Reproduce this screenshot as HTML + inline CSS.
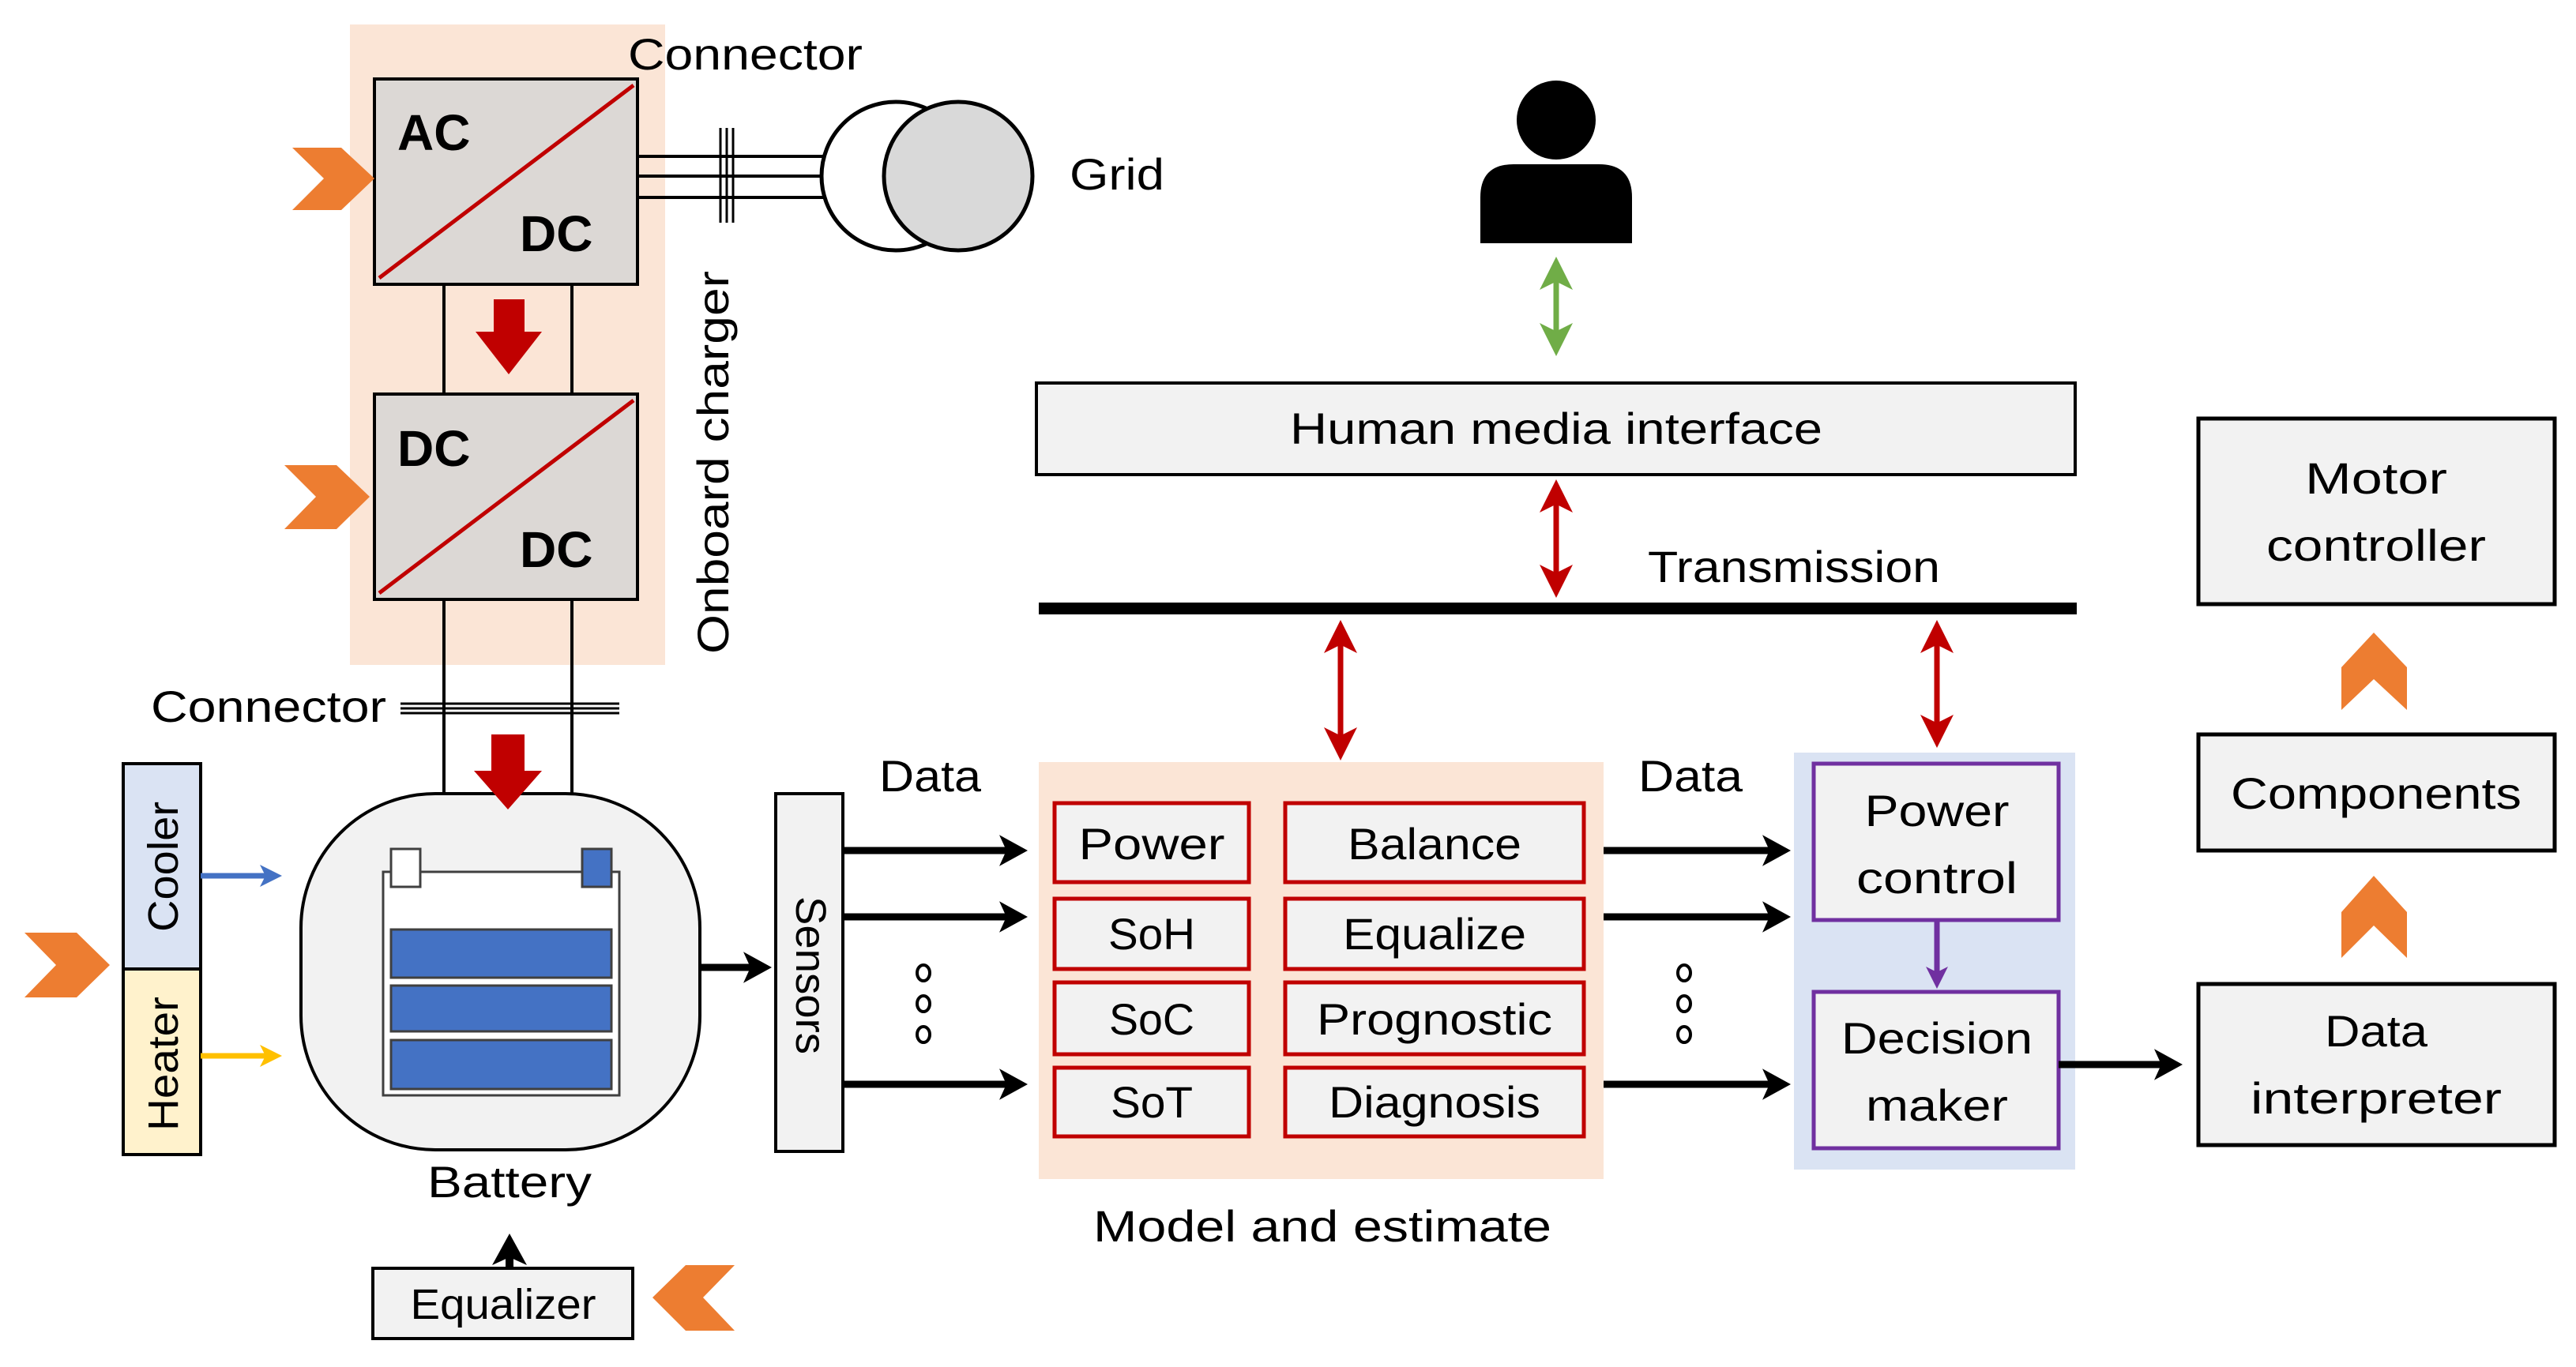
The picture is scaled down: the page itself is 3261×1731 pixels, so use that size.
<!DOCTYPE html>
<html><head><meta charset="utf-8"><style>html,body{margin:0;padding:0;background:#fff}svg{display:block}text{font-family:"Liberation Sans",sans-serif;fill:#000}</style></head><body>
<svg width="3261" height="1731" viewBox="0 0 3261 1731" xmlns="http://www.w3.org/2000/svg">
<defs>
<marker id="ak" markerWidth="4" markerHeight="4.4" refX="3" refY="2.2" orient="auto" markerUnits="strokeWidth"><path d="M0,0 L4,2.2 L0,4.4 L1,2.2z" fill="#000"/></marker>
<marker id="ar" markerWidth="6" markerHeight="6" refX="5" refY="3" orient="auto-start-reverse" markerUnits="strokeWidth"><path d="M0,0 L6,3 L0,6 L1.5,3z" fill="#c00000"/></marker>
<marker id="ag" markerWidth="6" markerHeight="6" refX="5" refY="3" orient="auto-start-reverse" markerUnits="strokeWidth"><path d="M0,0 L6,3 L0,6 L1.5,3z" fill="#70ad47"/></marker>
<marker id="ab" markerWidth="4" markerHeight="4" refX="3" refY="2" orient="auto" markerUnits="strokeWidth"><path d="M0,0 L4,2 L0,4 L1,2z" fill="#4472c4"/></marker>
<marker id="ay" markerWidth="4" markerHeight="4" refX="3" refY="2" orient="auto" markerUnits="strokeWidth"><path d="M0,0 L4,2 L0,4 L1,2z" fill="#ffc000"/></marker>
<marker id="ap" markerWidth="4" markerHeight="4" refX="3" refY="2" orient="auto" markerUnits="strokeWidth"><path d="M0,0 L4,2 L0,4 L1,2z" fill="#7030a0"/></marker>
</defs>

<rect x="443" y="31" width="399" height="811" fill="#fbe5d6"/>
<line x1="562" y1="360" x2="562" y2="1043" stroke="#000" stroke-width="4"/>
<line x1="724" y1="360" x2="724" y2="1043" stroke="#000" stroke-width="4"/>
<rect x="474" y="100" width="333" height="260" fill="#dcd8d5" stroke="#000" stroke-width="4"/>
<line x1="480" y1="352" x2="802" y2="108" stroke="#c00000" stroke-width="5"/>
<text x="503" y="190" font-size="64" font-weight="bold">AC</text>
<text x="658" y="318" font-size="64" font-weight="bold">DC</text>
<rect x="474" y="499" width="333" height="260" fill="#dcd8d5" stroke="#000" stroke-width="4"/>
<line x1="480" y1="751" x2="802" y2="507" stroke="#c00000" stroke-width="5"/>
<text x="503" y="590" font-size="64" font-weight="bold">DC</text>
<text x="658" y="718" font-size="64" font-weight="bold">DC</text>
<polygon points="625,379 664,379 664,420 686,420 644,474 602,420 625,420" fill="#c00000"/>
<polygon points="370,187 432,187 474,226 432,266 370,266 410,226" fill="#ed7d31"/>
<polygon points="360,589 426,589 468,629 426,670 360,670 400,629" fill="#ed7d31"/>
<text transform="translate(922,828) rotate(-90)" font-size="56" textLength="485" lengthAdjust="spacingAndGlyphs">Onboard charger</text>
<text x="795" y="88" font-size="56" textLength="297" lengthAdjust="spacingAndGlyphs">Connector</text>

<line x1="807" y1="198" x2="1060" y2="198" stroke="#000" stroke-width="4"/>
<line x1="807" y1="223" x2="1060" y2="223" stroke="#000" stroke-width="4"/>
<line x1="807" y1="250" x2="1060" y2="250" stroke="#000" stroke-width="4"/>
<line x1="912" y1="162" x2="912" y2="282" stroke="#000" stroke-width="3"/>
<line x1="920" y1="162" x2="920" y2="282" stroke="#000" stroke-width="3"/>
<line x1="928" y1="162" x2="928" y2="282" stroke="#000" stroke-width="3"/>
<circle cx="1134" cy="223" r="94" fill="#fff" stroke="#000" stroke-width="5"/>
<circle cx="1213" cy="223" r="94" fill="#d9d9d9" stroke="#000" stroke-width="5"/>
<text x="1354" y="240" font-size="56" textLength="120" lengthAdjust="spacingAndGlyphs">Grid</text>

<text x="191" y="914" font-size="56" textLength="298" lengthAdjust="spacingAndGlyphs">Connector</text>
<line x1="507" y1="891" x2="784" y2="891" stroke="#000" stroke-width="3"/>
<line x1="507" y1="897" x2="784" y2="897" stroke="#000" stroke-width="3"/>
<line x1="507" y1="903" x2="784" y2="903" stroke="#000" stroke-width="3"/>

<rect x="381" y="1005" width="505" height="451" rx="170" ry="170" fill="#f2f2f2" stroke="#000" stroke-width="4"/>
<polygon points="622,930 664,930 664,976 686,976 643,1025 600,976 622,976" fill="#c00000"/>
<rect x="485" y="1104" width="299" height="283" fill="#fff" stroke="#404040" stroke-width="3"/>
<rect x="495" y="1075" width="37" height="48" fill="#fff" stroke="#404040" stroke-width="3"/>
<rect x="737" y="1075" width="37" height="48" fill="#4472c4" stroke="#404040" stroke-width="3"/>
<rect x="495" y="1177" width="279" height="61" fill="#4472c4" stroke="#404040" stroke-width="3"/>
<rect x="495" y="1248" width="279" height="58" fill="#4472c4" stroke="#404040" stroke-width="3"/>
<rect x="495" y="1317" width="279" height="62" fill="#4472c4" stroke="#404040" stroke-width="3"/>
<text x="645" y="1516" font-size="56" text-anchor="middle" textLength="208" lengthAdjust="spacingAndGlyphs">Battery</text>

<rect x="156" y="967" width="98" height="260" fill="#dae3f3" stroke="#000" stroke-width="4"/>
<rect x="156" y="1227" width="98" height="235" fill="#fff2cc" stroke="#000" stroke-width="4"/>
<text transform="translate(225,1180) rotate(-90)" font-size="54" textLength="165" lengthAdjust="spacingAndGlyphs">Cooler</text>
<text transform="translate(225,1432) rotate(-90)" font-size="54" textLength="170" lengthAdjust="spacingAndGlyphs">Heater</text>
<line x1="254" y1="1109" x2="350" y2="1109" stroke="#4472c4" stroke-width="7" marker-end="url(#ab)"/>
<line x1="254" y1="1337" x2="350" y2="1337" stroke="#ffc000" stroke-width="7" marker-end="url(#ay)"/>
<polygon points="31,1181 97,1181 139,1222 97,1263 31,1263 71,1222" fill="#ed7d31"/>

<rect x="472" y="1606" width="329" height="89" fill="#f2f2f2" stroke="#000" stroke-width="4"/>
<text x="637" y="1670" font-size="54" text-anchor="middle" textLength="235" lengthAdjust="spacingAndGlyphs">Equalizer</text>
<line x1="645" y1="1606" x2="645" y2="1572" stroke="#000" stroke-width="10" marker-end="url(#ak)"/>
<polygon points="930,1602 868,1602 826,1643 868,1685 930,1685 890,1643" fill="#ed7d31"/>

<rect x="982" y="1005" width="85" height="453" fill="#f2f2f2" stroke="#000" stroke-width="4"/>
<text transform="translate(1008,1135) rotate(90)" font-size="54" textLength="200" lengthAdjust="spacingAndGlyphs">Sensors</text>
<line x1="886" y1="1225" x2="968" y2="1225" stroke="#000" stroke-width="9" marker-end="url(#ak)"/>

<line x1="1067" y1="1077" x2="1292" y2="1077" stroke="#000" stroke-width="9" marker-end="url(#ak)"/>
<line x1="1067" y1="1161" x2="1292" y2="1161" stroke="#000" stroke-width="9" marker-end="url(#ak)"/>
<line x1="1067" y1="1373" x2="1292" y2="1373" stroke="#000" stroke-width="9" marker-end="url(#ak)"/>
<g fill="none" stroke="#000" stroke-width="4"><ellipse cx="1169" cy="1232" rx="8" ry="10"/><ellipse cx="1169" cy="1271" rx="8" ry="10"/><ellipse cx="1169" cy="1310" rx="8" ry="10"/>
<ellipse cx="2132" cy="1232" rx="8" ry="10"/><ellipse cx="2132" cy="1271" rx="8" ry="10"/><ellipse cx="2132" cy="1310" rx="8" ry="10"/></g>
<text x="1113" y="1002" font-size="56" textLength="129" lengthAdjust="spacingAndGlyphs">Data</text>
<text x="2074" y="1002" font-size="56" textLength="132" lengthAdjust="spacingAndGlyphs">Data</text>

<rect x="1315" y="965" width="715" height="528" fill="#fbe5d6"/>
<g fill="#f2f2f2" stroke="#c00000" stroke-width="5">
<rect x="1335" y="1017" width="246" height="100"/><rect x="1627" y="1017" width="378" height="100"/>
<rect x="1335" y="1138" width="246" height="89"/><rect x="1627" y="1138" width="378" height="89"/>
<rect x="1335" y="1244" width="246" height="91"/><rect x="1627" y="1244" width="378" height="91"/>
<rect x="1335" y="1352" width="246" height="87"/><rect x="1627" y="1352" width="378" height="87"/>
</g>
<g font-size="56" text-anchor="middle">
<text x="1458" y="1088" textLength="185" lengthAdjust="spacingAndGlyphs">Power</text>
<text x="1816" y="1088" textLength="220" lengthAdjust="spacingAndGlyphs">Balance</text>
<text x="1458" y="1202" textLength="110" lengthAdjust="spacingAndGlyphs">SoH</text>
<text x="1816" y="1202" textLength="232" lengthAdjust="spacingAndGlyphs">Equalize</text>
<text x="1458" y="1310" textLength="108" lengthAdjust="spacingAndGlyphs">SoC</text>
<text x="1816" y="1310" textLength="298" lengthAdjust="spacingAndGlyphs">Prognostic</text>
<text x="1458" y="1415" textLength="104" lengthAdjust="spacingAndGlyphs">SoT</text>
<text x="1816" y="1415" textLength="268" lengthAdjust="spacingAndGlyphs">Diagnosis</text>
<text x="1674" y="1572" textLength="580" lengthAdjust="spacingAndGlyphs">Model and estimate</text>
</g>

<line x1="2030" y1="1077" x2="2258" y2="1077" stroke="#000" stroke-width="9" marker-end="url(#ak)"/>
<line x1="2030" y1="1161" x2="2258" y2="1161" stroke="#000" stroke-width="9" marker-end="url(#ak)"/>
<line x1="2030" y1="1373" x2="2258" y2="1373" stroke="#000" stroke-width="9" marker-end="url(#ak)"/>

<rect x="2271" y="953" width="356" height="528" fill="#dae3f3"/>
<rect x="2296" y="967" width="310" height="198" fill="#f2f2f2" stroke="#7030a0" stroke-width="5"/>
<rect x="2296" y="1256" width="310" height="198" fill="#f2f2f2" stroke="#7030a0" stroke-width="5"/>
<line x1="2452" y1="1165" x2="2452" y2="1245" stroke="#7030a0" stroke-width="7" marker-end="url(#ap)"/>
<g font-size="56" text-anchor="middle">
<text x="2452" y="1046" textLength="183" lengthAdjust="spacingAndGlyphs">Power</text>
<text x="2452" y="1131" textLength="204" lengthAdjust="spacingAndGlyphs">control</text>
<text x="2452" y="1334" textLength="242" lengthAdjust="spacingAndGlyphs">Decision</text>
<text x="2452" y="1419" textLength="180" lengthAdjust="spacingAndGlyphs">maker</text>
</g>
<line x1="2606" y1="1348" x2="2754" y2="1348" stroke="#000" stroke-width="9" marker-end="url(#ak)"/>

<g fill="#f2f2f2" stroke="#000" stroke-width="5">
<rect x="2783" y="1246" width="451" height="204"/>
<rect x="2783" y="930" width="451" height="147"/>
<rect x="2783" y="530" width="451" height="235"/>
</g>
<g font-size="56" text-anchor="middle">
<text x="3008" y="1325" textLength="130" lengthAdjust="spacingAndGlyphs">Data</text>
<text x="3008" y="1410" textLength="318" lengthAdjust="spacingAndGlyphs">interpreter</text>
<text x="3008" y="1024" textLength="368" lengthAdjust="spacingAndGlyphs">Components</text>
<text x="3008" y="625" textLength="180" lengthAdjust="spacingAndGlyphs">Motor</text>
<text x="3008" y="710" textLength="278" lengthAdjust="spacingAndGlyphs">controller</text>
</g>
<polygon points="2964,1213 2964,1155 3005,1109 3047,1155 3047,1213 3005,1172" fill="#ed7d31"/>
<polygon points="2964,899 2964,845 3005,801 3047,845 3047,899 3005,860" fill="#ed7d31"/>

<rect x="1312" y="485" width="1315" height="116" fill="#f2f2f2" stroke="#000" stroke-width="4"/>
<text x="1970" y="562" font-size="56" text-anchor="middle" textLength="674" lengthAdjust="spacingAndGlyphs">Human media interface</text>
<rect x="1315" y="763" width="1314" height="15" fill="#000"/>
<text x="2086" y="737" font-size="56" textLength="370" lengthAdjust="spacingAndGlyphs">Transmission</text>
<line x1="1970" y1="614" x2="1970" y2="750" stroke="#c00000" stroke-width="7" marker-start="url(#ar)" marker-end="url(#ar)"/>
<line x1="1697" y1="792" x2="1697" y2="956" stroke="#c00000" stroke-width="7" marker-start="url(#ar)" marker-end="url(#ar)"/>
<line x1="2452" y1="792" x2="2452" y2="940" stroke="#c00000" stroke-width="7" marker-start="url(#ar)" marker-end="url(#ar)"/>
<line x1="1970" y1="332" x2="1970" y2="444" stroke="#70ad47" stroke-width="7" marker-start="url(#ag)" marker-end="url(#ag)"/>

<circle cx="1970" cy="152" r="50" fill="#000"/>
<path d="M1874,308 L1874,250 Q1874,208 1916,208 L2024,208 Q2066,208 2066,250 L2066,308 Z" fill="#000"/>
</svg>
</body></html>
